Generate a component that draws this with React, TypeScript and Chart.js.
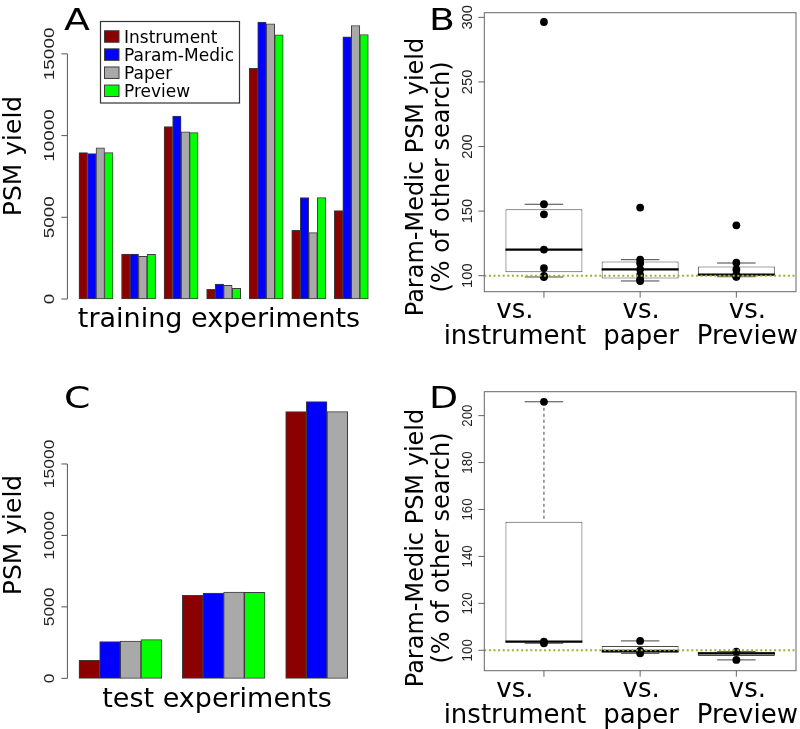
import React, { useEffect, useRef } from "react";
import { Chart, registerables } from "chart.js";

Chart.register(...registerables);

// ---------- data ----------
const SERIES = ["Instrument", "Param-Medic", "Paper", "Preview"];
const SERIES_COLORS = ["#8B0000", "#0000FF", "#A9A9A9", "#00FF00"];

const trainInstrument = [8960, 2755, 10550, 590, 14120, 4200, 5410];
const trainParamMedic = [8900, 2755, 11200, 920, 16940, 6200, 16040];
const trainPaper = [9245, 2610, 10225, 835, 16840, 4060, 16735];
const trainPreview = [8960, 2735, 10185, 655, 16165, 6200, 16185];

const testInstrument = [1260, 5810, 18660];
const testParamMedic = [2565, 5970, 19360];
const testPaper = [2615, 6040, 18660];
const testPreview: (number | null)[] = [2705, 6020, null];

const countTicks = [0, 5000, 10000, 15000];
const compareLabels = [["vs.", "instrument"], ["vs.", "paper"], ["vs.", "Preview"]];

const trainVsInstrument = [296.4, 155.3, 147.5, 120.2, 105.9, 99.8, 99.0];
const trainVsPaper = [152.7, 112.4, 109.6, 104.9, 100.6, 97.0, 95.9];
const trainVsPreview = [139.0, 110.0, 104.8, 100.8, 100.0, 99.3, 99.1];
// [lower whisker, Q1, median, Q3, upper whisker]
const trainBoxInstrument = [99.0, 102.6, 120.2, 151.4, 155.3];
const trainBoxPaper = [95.9, 97.9, 104.9, 110.9, 112.4];
const trainBoxPreview = [99.2, 100.3, 100.8, 107.2, 109.8];
const trainRatioTicks = [100, 150, 200, 250, 300];

const testVsInstrument = [205.9, 103.7, 103.0];
const testVsPaper = [104.0, 99.7, 98.7];
const testVsPreview = [99.4, 95.9];
const testBoxInstrument = [103.0, 103.4, 103.7, 154.8, 205.9];
const testBoxPaper = [98.7, 99.0, 99.7, 101.8, 104.0];
const testBoxPreview = [95.9, 97.6, 98.7, 99.4, 99.4];
const testRatioTicks = [100, 120, 140, 160, 180, 200];

const referenceLevel = 100;

// ---------- helpers ----------
const BIG = "'DejaVu Sans', sans-serif";
const TICKF = "'Liberation Sans', Arial, sans-serif";

function rotText(ctx: CanvasRenderingContext2D, text: string, x: number, y: number, font: string, stretch = 1, color = "#000") {
  ctx.save();
  ctx.translate(x, y);
  ctx.rotate(-Math.PI / 2);
  ctx.scale(stretch, 1);
  ctx.font = font;
  ctx.fillStyle = color;
  ctx.textAlign = "center";
  ctx.textBaseline = "alphabetic";
  ctx.fillText(text, 0, 0);
  ctx.restore();
}

function letterText(ctx: CanvasRenderingContext2D, text: string, x: number, y: number) {
  ctx.save();
  ctx.translate(x, y);
  ctx.scale(1.22, 1);
  ctx.font = `31px ${BIG}`;
  ctx.fillStyle = "#000";
  ctx.textAlign = "left";
  ctx.textBaseline = "alphabetic";
  ctx.fillText(text, 0, 0);
  ctx.restore();
}

const noTicks = (s: any) => {
  s.ticks = [];
};

interface CountLayout {
  letter: string;
  letterX: number;
  letterY: number;
  yTitleX: number;
  yTitleY: number;
  xTitle: string;
  xTitleX: number;
  xTitleY: number;
  tickStretch: number;
  legend: boolean;
}

function countConfig(values: (number | null)[][], nGroups: number, lay: CountLayout, pad: any) {
  let maxV = 0;
  values.forEach((arr) => arr.forEach((v) => { if (v != null && v > maxV) maxV = v; }));
  const uMin = 1, uMax = nGroups * 5;
  const ext = (uMax - uMin) * 0.04;
  const datasets = SERIES.map((name, k) => ({
    type: "bar",
    label: name,
    data: values[k].map((v, g) => ({ x: g * 5 + k + 1.5, y: v })),
    backgroundColor: SERIES_COLORS[k],
    borderColor: "#3c3c3c",
    borderWidth: 1,
    borderSkipped: false,
    grouped: false,
    barPercentage: 1,
    categoryPercentage: 1,
  }));
  const plugin = {
    id: "countDecor",
    afterDraw(chart: any) {
      const ctx: CanvasRenderingContext2D = chart.ctx;
      const y = chart.scales.y;
      const ca = chart.chartArea;
      const ax = ca.left;
      ctx.save();
      ctx.strokeStyle = "#555";
      ctx.lineWidth = 1;
      ctx.beginPath();
      ctx.moveTo(ax, y.getPixelForValue(countTicks[0]));
      ctx.lineTo(ax, y.getPixelForValue(countTicks[countTicks.length - 1]));
      countTicks.forEach((t) => {
        const py = y.getPixelForValue(t);
        ctx.moveTo(ax - 6, py);
        ctx.lineTo(ax, py);
      });
      ctx.stroke();
      countTicks.forEach((t) => {
        rotText(ctx, String(t), ax - 13.5, y.getPixelForValue(t), `14px ${TICKF}`, lay.tickStretch, "#222");
      });
      rotText(ctx, "PSM yield", lay.yTitleX, lay.yTitleY, `25px ${BIG}`);
      ctx.font = `27px ${BIG}`;
      ctx.fillStyle = "#000";
      ctx.textAlign = "center";
      ctx.textBaseline = "alphabetic";
      ctx.fillText(lay.xTitle, lay.xTitleX, lay.xTitleY);
      letterText(ctx, lay.letter, lay.letterX, lay.letterY);
      if (lay.legend) {
        ctx.strokeStyle = "#333";
        ctx.lineWidth = 1.2;
        ctx.strokeRect(100.5, 21.5, 139, 81.5);
        chart.data.datasets.forEach((ds: any, i: number) => {
          const cy = 36.5 + i * 18.1;
          ctx.fillStyle = ds.backgroundColor;
          ctx.fillRect(104.5, cy - 5.75, 14.5, 11.5);
          ctx.lineWidth = 1;
          ctx.strokeStyle = "#3c3c3c";
          ctx.strokeRect(104.5, cy - 5.75, 14.5, 11.5);
          ctx.fillStyle = "#000";
          ctx.font = `17px ${BIG}`;
          ctx.textAlign = "left";
          ctx.fillText(ds.label, 124, cy + 6.2);
        });
      }
      ctx.restore();
    },
  };
  return {
    type: "bar",
    data: { datasets },
    options: {
      responsive: false,
      animation: false,
      events: [],
      layout: { padding: pad },
      plugins: { legend: { display: false }, tooltip: { enabled: false }, title: { display: false } },
      scales: {
        x: { type: "linear", min: uMin - ext, max: uMax + ext, display: false, afterBuildTicks: noTicks },
        y: { type: "linear", min: -maxV * 0.04, max: maxV * 1.04, display: false },
      },
    },
    plugins: [plugin],
  };
}

interface RatioLayout {
  letter: string;
  letterX: number;
  letterY: number;
  titleY: number;
  tickStretch: number;
}

function ratioConfig(points: number[][], boxes: number[][], ticks: number[], yMin: number, yMax: number, lay: RatioLayout, pad: any) {
  const pts: { x: number; y: number }[] = [];
  points.forEach((arr, i) => arr.forEach((v) => pts.push({ x: i + 1, y: v })));
  const labelShift = [-29, 1, 11];
  const plugin = {
    id: "ratioDecor",
    afterDatasetDraw(chart: any, args: any) {
      if (args.meta.type !== "bar") return;
      const ctx: CanvasRenderingContext2D = chart.ctx;
      const y = chart.scales.y;
      ctx.save();
      boxes.forEach((s, i) => {
        const el = args.meta.data[i];
        const cx = el.x;
        const hw = el.width / 2;
        ctx.strokeStyle = "#444";
        ctx.lineWidth = 1;
        ctx.setLineDash([3, 3]);
        ctx.beginPath();
        ctx.moveTo(cx, y.getPixelForValue(s[4]));
        ctx.lineTo(cx, y.getPixelForValue(s[3]));
        ctx.moveTo(cx, y.getPixelForValue(s[1]));
        ctx.lineTo(cx, y.getPixelForValue(s[0]));
        ctx.stroke();
        ctx.setLineDash([]);
        ctx.beginPath();
        [s[0], s[4]].forEach((v) => {
          const py = y.getPixelForValue(v);
          ctx.moveTo(cx - hw / 2, py);
          ctx.lineTo(cx + hw / 2, py);
        });
        ctx.stroke();
        ctx.strokeStyle = "#000";
        ctx.lineWidth = 2.4;
        ctx.beginPath();
        const pm = y.getPixelForValue(s[2]);
        ctx.moveTo(cx - hw, pm);
        ctx.lineTo(cx + hw, pm);
        ctx.stroke();
      });
      ctx.restore();
    },
    afterDraw(chart: any) {
      const ctx: CanvasRenderingContext2D = chart.ctx;
      const x = chart.scales.x;
      const y = chart.scales.y;
      const ca = chart.chartArea;
      ctx.save();
      // reference line
      ctx.strokeStyle = "#9DB12D";
      ctx.lineWidth = 2;
      ctx.setLineDash([2, 2.6]);
      ctx.beginPath();
      const pr = y.getPixelForValue(referenceLevel);
      ctx.moveTo(ca.left, pr);
      ctx.lineTo(ca.right, pr);
      ctx.stroke();
      ctx.setLineDash([]);
      // frame
      ctx.strokeStyle = "#666";
      ctx.lineWidth = 1;
      ctx.strokeRect(ca.left, ca.top, ca.right - ca.left, ca.bottom - ca.top);
      ctx.beginPath();
      ticks.forEach((t) => {
        const py = y.getPixelForValue(t);
        ctx.moveTo(ca.left - 6, py);
        ctx.lineTo(ca.left, py);
      });
      compareLabels.forEach((_, i) => {
        const px = x.getPixelForValue(i + 1);
        ctx.moveTo(px, ca.bottom);
        ctx.lineTo(px, ca.bottom + 6);
      });
      ctx.stroke();
      ticks.forEach((t) => rotText(ctx, String(t), ca.left - 12, y.getPixelForValue(t), `14px ${TICKF}`, lay.tickStretch, "#222"));
      ctx.fillStyle = "#000";
      ctx.font = `26px ${BIG}`;
      ctx.textAlign = "center";
      ctx.textBaseline = "alphabetic";
      compareLabels.forEach((lines, i) => {
        const px = x.getPixelForValue(i + 1) + labelShift[i];
        lines.forEach((ln, j) => ctx.fillText(ln, px, ca.bottom + 26.3 + j * 26));
      });
      rotText(ctx, "Param-Medic PSM yield", 33, lay.titleY, `24px ${BIG}`);
      rotText(ctx, "(% of other search)", 59, lay.titleY, `24px ${BIG}`);
      letterText(ctx, lay.letter, lay.letterX, lay.letterY);
      ctx.restore();
    },
  };
  return {
    type: "bar",
    data: {
      datasets: [
        {
          type: "scatter",
          label: "values",
          data: pts,
          pointRadius: 3.9,
          backgroundColor: "#000",
          borderColor: "#000",
          borderWidth: 0,
          order: 0,
        },
        {
          type: "bar",
          label: "box",
          data: boxes.map((s, i) => ({ x: i + 1, y: [s[1], s[3]] })),
          backgroundColor: "#fff",
          borderColor: "#4a4a4a",
          borderWidth: 1,
          borderSkipped: false,
          grouped: false,
          barPercentage: 0.8,
          categoryPercentage: 1,
          order: 1,
        },
      ],
    },
    options: {
      responsive: false,
      animation: false,
      events: [],
      layout: { padding: pad },
      plugins: { legend: { display: false }, tooltip: { enabled: false }, title: { display: false } },
      scales: {
        x: { type: "linear", min: 0.38, max: 3.62, display: false, afterBuildTicks: noTicks },
        y: { type: "linear", min: yMin, max: yMax, display: false },
      },
    },
    plugins: [plugin],
  };
}

function Panel({ left, top, width, height, make }: { left: number; top: number; width: number; height: number; make: () => any }) {
  const ref = useRef<HTMLCanvasElement>(null);
  useEffect(() => {
    const chart = new Chart(ref.current as HTMLCanvasElement, make() as any);
    return () => chart.destroy();
  }, []);
  return (
    <canvas
      ref={ref}
      width={width}
      height={height}
      style={{ position: "absolute", left, top, width, height, display: "block" }}
    />
  );
}

export default function App() {
  return (
    <div style={{ position: "absolute", left: 0, top: 0, width: 800, height: 729, background: "#fff", overflow: "hidden" }}>
      <Panel
        left={0}
        top={0}
        width={400}
        height={360}
        make={() =>
          countConfig(
            [trainInstrument, trainParamMedic, trainPaper, trainPreview],
            7,
            { letter: "A", letterX: 64, letterY: 30, yTitleX: 21, yTitleY: 156, xTitle: "training experiments", xTitleX: 219, xTitleY: 327, tickStretch: 1.35, legend: true },
            { left: 67.4, top: 11.1, right: 20.1, bottom: 49.9 }
          )
        }
      />
      <Panel
        left={390}
        top={0}
        width={410}
        height={360}
        make={() =>
          ratioConfig(
            [trainVsInstrument, trainVsPaper, trainVsPreview],
            [trainBoxInstrument, trainBoxPaper, trainBoxPreview],
            trainRatioTicks,
            87.6,
            303.6,
            { letter: "B", letterX: 39, letterY: 30, titleY: 177, tickStretch: 1.05 },
            { left: 94.3, top: 12.7, right: 3.3, bottom: 68.3 }
          )
        }
      />
      <Panel
        left={0}
        top={360}
        width={400}
        height={369}
        make={() =>
          countConfig(
            [testInstrument, testParamMedic, testPaper, testPreview],
            3,
            { letter: "C", letterX: 64, letterY: 48, yTitleX: 21, yTitleY: 175, xTitle: "test experiments", xTitleX: 217, xTitleY: 346.7, tickStretch: 1.25, legend: false },
            { left: 67.4, top: 30.6, right: 20.1, bottom: 39.6 }
          )
        }
      />
      <Panel
        left={390}
        top={360}
        width={410}
        height={369}
        make={() =>
          ratioConfig(
            [testVsInstrument, testVsPaper, testVsPreview],
            [testBoxInstrument, testBoxPaper, testBoxPreview],
            testRatioTicks,
            91.3,
            210.2,
            { letter: "D", letterX: 39, letterY: 48, titleY: 188, tickStretch: 0.95 },
            { left: 94.3, top: 31.7, right: 3.3, bottom: 58.3 }
          )
        }
      />
    </div>
  );
}
